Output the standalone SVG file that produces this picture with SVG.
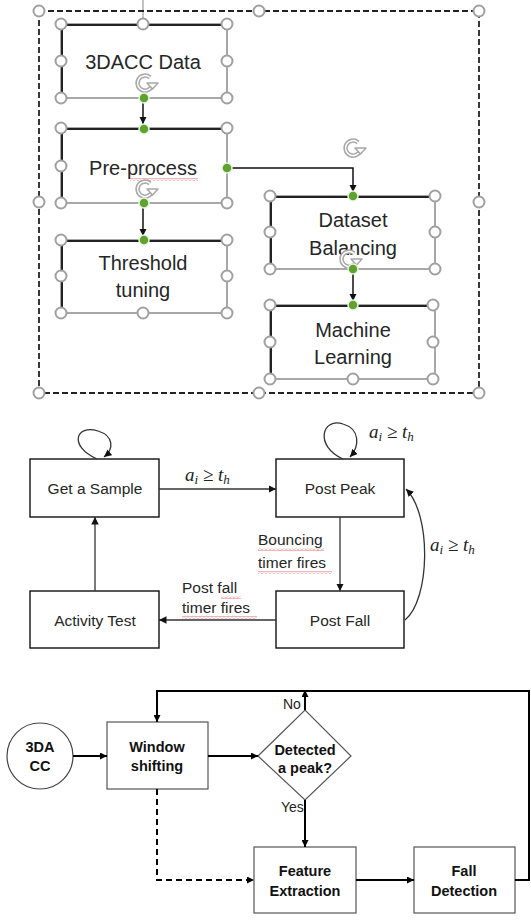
<svg xmlns="http://www.w3.org/2000/svg" width="531" height="922" viewBox="0 0 531 922">
<style>
.t{font-family:"Liberation Sans",Arial,sans-serif;fill:#262626;text-anchor:middle}
.t20{font-size:20px}
.t16{font-size:15.5px}
.lb{font-family:"Liberation Sans",Arial,sans-serif;font-size:15.5px;fill:#262626}
.tb{font-family:"Liberation Sans",Arial,sans-serif;font-size:14.5px;font-weight:bold;fill:#111;text-anchor:middle}
.tn{font-family:"Liberation Sans",Arial,sans-serif;font-size:14px;fill:#222}
.m{font-family:"Liberation Serif","Times New Roman",serif;font-size:19px;font-style:italic;fill:#222}
.sub{font-size:13px}
.h{fill:#fff;stroke:#a0a0a0;stroke-width:2}
.g{fill:#5ea32e;stroke:#eaf5e2;stroke-width:1.5}
.bx{fill:#fff;stroke:#8c8c8c;stroke-width:1.5}
.bd{fill:none;stroke:#222;stroke-width:2}
.c1{fill:none;stroke:#111;stroke-width:1.5}
.sb{fill:#fff;stroke:#111;stroke-width:1.4}
.sc{fill:none;stroke:#333;stroke-width:1.3}
.fb{fill:#fff;stroke:#555;stroke-width:1.2}
.fl{fill:none;stroke:#000;stroke-width:2}
.rot{fill:none;stroke:#a8a8a8;stroke-width:4.5}
.roti{fill:none;stroke:#fff;stroke-width:1.5}
</style>
<defs>
<marker id="at" viewBox="0 0 10 10" refX="10" refY="5" markerWidth="5" markerHeight="5" orient="auto"><path d="M0,0L10,5L0,10z" fill="#111"/></marker>
<marker id="am" viewBox="0 0 10 10" refX="10" refY="5" markerWidth="7.5" markerHeight="7.5" markerUnits="userSpaceOnUse" orient="auto"><path d="M0,0L10,5L0,10z" fill="#111"/></marker>
<marker id="ab" viewBox="0 0 10 10" refX="10" refY="5" markerWidth="7" markerHeight="7" markerUnits="userSpaceOnUse" orient="auto"><path d="M0,0L10,5L0,10z" fill="#000"/></marker>
<pattern id="sq" width="4" height="3" patternUnits="userSpaceOnUse"><path d="M0,2.5L2,0.5L4,2.5" fill="none" stroke="#e04545" stroke-width="0.8"/></pattern>
<g id="rotIcon">
<path class="rot" d="M5,-5.5A7.5,7.5 0 1 0 7.5,1"/>
<path class="roti" d="M5,-5.5A7.5,7.5 0 1 0 7.5,1"/>
<path d="M2,0L13,0L7.5,6z" fill="#fff" stroke="#a8a8a8" stroke-width="1.5" stroke-linejoin="round"/>
</g>
</defs>
<rect width="531" height="922" fill="#fff"/>

<!-- ===== Top section ===== -->
<g id="group-frame">
<line x1="143" y1="0" x2="143" y2="19" stroke="#9a9a9a" stroke-width="1.2"/>
<rect x="39" y="11" width="440" height="382" fill="none" stroke="#222" stroke-width="1.8" stroke-dasharray="6 3"/>
</g>

<g id="node-3dacc">
<rect class="bx" x="61" y="24" width="166" height="74" rx="5"/>
<path class="bd" d="M62,96V30Q62,25 67,25H225"/>
<text class="t t20" x="143" y="69">3DACC Data</text>
</g>
<g id="node-preprocess">
<rect class="bx" x="61" y="128" width="166" height="75" rx="5"/>
<path class="bd" d="M62,201V134Q62,129 67,129H225"/>
<text class="t t20" x="143" y="175">Pre-process</text>
<rect x="130" y="178" width="68" height="3" fill="url(#sq)"/>
</g>
<g id="node-threshold">
<rect class="bx" x="61" y="240" width="166" height="73" rx="5"/>
<path class="bd" d="M62,311V246Q62,241 67,241H225"/>
<text class="t t20" x="143" y="270">Threshold</text>
<text class="t t20" x="143" y="297">tuning</text>
</g>
<g id="node-dataset">
<rect class="bx" x="270" y="196" width="165" height="73" rx="5"/>
<path class="bd" d="M271,267V202Q271,197 276,197H433"/>
<text class="t t20" x="353" y="227">Dataset</text>
<text class="t t20" x="353" y="255">Balancing</text>
</g>
<g id="node-ml">
<rect class="bx" x="270" y="305" width="165" height="74" rx="5"/>
<path class="bd" d="M271,377V311Q271,306 276,306H433"/>
<text class="t t20" x="353" y="337">Machine</text>
<text class="t t20" x="353" y="364">Learning</text>
</g>

<g id="connectors-top">
<line class="c1" x1="143" y1="98" x2="143" y2="124" marker-end="url(#at)"/>
<line class="c1" x1="143" y1="203" x2="143" y2="236" marker-end="url(#at)"/>
<path class="c1" d="M227,168H353V192" marker-end="url(#at)"/>
<line class="c1" x1="353" y1="269" x2="353" y2="301" marker-end="url(#at)"/>
</g>

<g id="rotation-handles">
<use href="#rotIcon" x="145" y="83"/>
<use href="#rotIcon" x="145" y="189"/>
<use href="#rotIcon" x="353" y="148"/>
<use href="#rotIcon" x="349" y="259"/>
</g>

<g id="selection-handles">
<circle class="h" cx="39" cy="11" r="5.5"/><circle class="h" cx="259" cy="11" r="5.5"/><circle class="h" cx="479" cy="11" r="5.5"/>
<circle class="h" cx="39" cy="202" r="5.5"/><circle class="h" cx="479" cy="202" r="5.5"/>
<circle class="h" cx="39" cy="393" r="5.5"/><circle class="h" cx="259" cy="393" r="5.5"/><circle class="h" cx="479" cy="393" r="5.5"/>

<circle class="h" cx="61" cy="24" r="5.5"/><circle class="h" cx="143" cy="24" r="5.5"/><circle class="h" cx="227" cy="24" r="5.5"/>
<circle class="h" cx="61" cy="61" r="5.5"/><circle class="h" cx="227" cy="61" r="5.5"/>
<circle class="h" cx="61" cy="98" r="5.5"/><circle class="h" cx="227" cy="98" r="5.5"/>
<circle class="g" cx="144" cy="98" r="5"/>

<circle class="h" cx="61" cy="128" r="5.5"/><circle class="h" cx="227" cy="128" r="5.5"/>
<circle class="h" cx="61" cy="166" r="5.5"/>
<circle class="h" cx="61" cy="203" r="5.5"/><circle class="h" cx="227" cy="203" r="5.5"/>
<circle class="g" cx="144" cy="129" r="5"/><circle class="g" cx="227" cy="168" r="5"/><circle class="g" cx="144" cy="203" r="5"/>

<circle class="h" cx="61" cy="240" r="5.5"/><circle class="h" cx="227" cy="240" r="5.5"/>
<circle class="h" cx="61" cy="276" r="5.5"/><circle class="h" cx="227" cy="276" r="5.5"/>
<circle class="h" cx="61" cy="313" r="5.5"/><circle class="h" cx="143" cy="313" r="5.5"/><circle class="h" cx="227" cy="313" r="5.5"/>
<circle class="g" cx="144" cy="240" r="5"/>

<circle class="h" cx="270" cy="196" r="5.5"/><circle class="h" cx="435" cy="196" r="5.5"/>
<circle class="h" cx="270" cy="232" r="5.5"/><circle class="h" cx="435" cy="232" r="5.5"/>
<circle class="h" cx="270" cy="269" r="5.5"/><circle class="h" cx="435" cy="269" r="5.5"/>
<circle class="g" cx="353" cy="196" r="5"/><circle class="g" cx="353" cy="269" r="5"/>

<circle class="h" cx="270" cy="305" r="5.5"/><circle class="h" cx="433" cy="305" r="5.5"/>
<circle class="h" cx="270" cy="342" r="5.5"/><circle class="h" cx="433" cy="342" r="5.5"/>
<circle class="h" cx="270" cy="379" r="5.5"/><circle class="h" cx="353" cy="379" r="5.5"/><circle class="h" cx="433" cy="379" r="5.5"/>
<circle class="g" cx="353" cy="305" r="5"/>
</g>

<!-- ===== Middle section: state diagram ===== -->
<g id="node-get-sample">
<rect class="sb" x="30" y="459" width="129" height="58"/>
<text class="t t16" x="95" y="494">Get a Sample</text>
</g>
<g id="node-post-peak">
<rect class="sb" x="276" y="459" width="128" height="58"/>
<text class="t t16" x="340" y="494">Post Peak</text>
</g>
<g id="node-post-fall">
<rect class="sb" x="276" y="591" width="128" height="57"/>
<text class="t t16" x="340" y="626">Post Fall</text>
</g>
<g id="node-activity-test">
<rect class="sb" x="30" y="591" width="129" height="57"/>
<text class="t t16" x="95" y="626">Activity Test</text>
</g>

<g id="connectors-state">
<path class="sc" d="M97,459C68,446 76,424 98,431C114,436 114,449 104,457" marker-end="url(#am)"/>
<path class="sc" d="M343,459C314,446 322,417 343,424C360,429 360,446 350,457" marker-end="url(#am)"/>
<line class="sc" x1="159" y1="489" x2="276" y2="489" marker-end="url(#am)"/>
<line class="sc" x1="340" y1="517" x2="340" y2="591" marker-end="url(#am)"/>
<path class="sc" d="M405,620C430,600 432,515 406,489" marker-end="url(#am)"/>
<line class="sc" x1="276" y1="620" x2="159" y2="620" marker-end="url(#am)"/>
<line class="sc" x1="95" y1="591" x2="95" y2="517" marker-end="url(#am)"/>
</g>

<g id="labels-state">
<text class="m" x="185" y="481">a<tspan class="sub" dy="3">i</tspan><tspan dy="-3" font-style="normal"> ≥ </tspan>t<tspan class="sub" dy="3">h</tspan></text>
<text class="m" x="369" y="438">a<tspan class="sub" dy="3">i</tspan><tspan dy="-3" font-style="normal"> ≥ </tspan>t<tspan class="sub" dy="3">h</tspan></text>
<text class="m" x="430" y="551">a<tspan class="sub" dy="3">i</tspan><tspan dy="-3" font-style="normal"> ≥ </tspan>t<tspan class="sub" dy="3">h</tspan></text>
<text class="lb" x="258" y="545">Bouncing</text>
<text class="lb" x="258" y="568">timer fires</text>
<rect x="258" y="548" width="66" height="3" fill="url(#sq)"/>
<rect x="258" y="571" width="74" height="3" fill="url(#sq)"/>
<text class="lb" x="182" y="593">Post fall</text>
<text class="lb" x="182" y="613">timer fires</text>
<rect x="221" y="596" width="20" height="3" fill="url(#sq)"/>
<rect x="182" y="616" width="75" height="3" fill="url(#sq)"/>
</g>

<!-- ===== Bottom section: flowchart ===== -->
<g id="node-3dacc-circle">
<circle cx="40" cy="756" r="33" fill="#fff" stroke="#444" stroke-width="1.2"/>
<text class="tb" x="40" y="752">3DA</text>
<text class="tb" x="40" y="771">CC</text>
</g>
<g id="node-window">
<rect class="fb" x="107" y="722" width="101" height="67"/>
<text class="tb" x="157" y="752">Window</text>
<text class="tb" x="157" y="771">shifting</text>
</g>
<g id="node-detected">
<path class="fb" d="M258,756L305,710L351,756L305,800Z"/>
<text class="tb" x="305" y="755">Detected</text>
<text class="tb" x="305" y="773">a peak?</text>
</g>
<g id="node-feature">
<rect class="fb" x="254" y="847" width="102" height="66"/>
<text class="tb" x="305" y="876">Feature</text>
<text class="tb" x="305" y="896">Extraction</text>
</g>
<g id="node-fall-detection">
<rect class="fb" x="414" y="847" width="101" height="66"/>
<text class="tb" x="464" y="876">Fall</text>
<text class="tb" x="464" y="896">Detection</text>
</g>

<g id="connectors-flow">
<line class="fl" x1="73" y1="756" x2="107" y2="756" marker-end="url(#ab)"/>
<line class="fl" x1="208" y1="756" x2="258" y2="756" marker-end="url(#ab)"/>
<line class="fl" x1="305" y1="710" x2="305" y2="690" marker-end="url(#ab)"/>
<line class="fl" x1="305" y1="800" x2="305" y2="847" marker-end="url(#ab)"/>
<line class="fl" x1="356" y1="880" x2="414" y2="880" marker-end="url(#ab)"/>
<path class="fl" d="M515,880H529V691H157V722" marker-end="url(#ab)"/>
<path class="fl" d="M157,789V880H254" stroke-dasharray="6 4" marker-end="url(#ab)"/>
</g>
<g id="labels-flow">
<text class="tn" x="283" y="709">No</text>
<text class="tn" x="281" y="812">Yes</text>
</g>
</svg>
